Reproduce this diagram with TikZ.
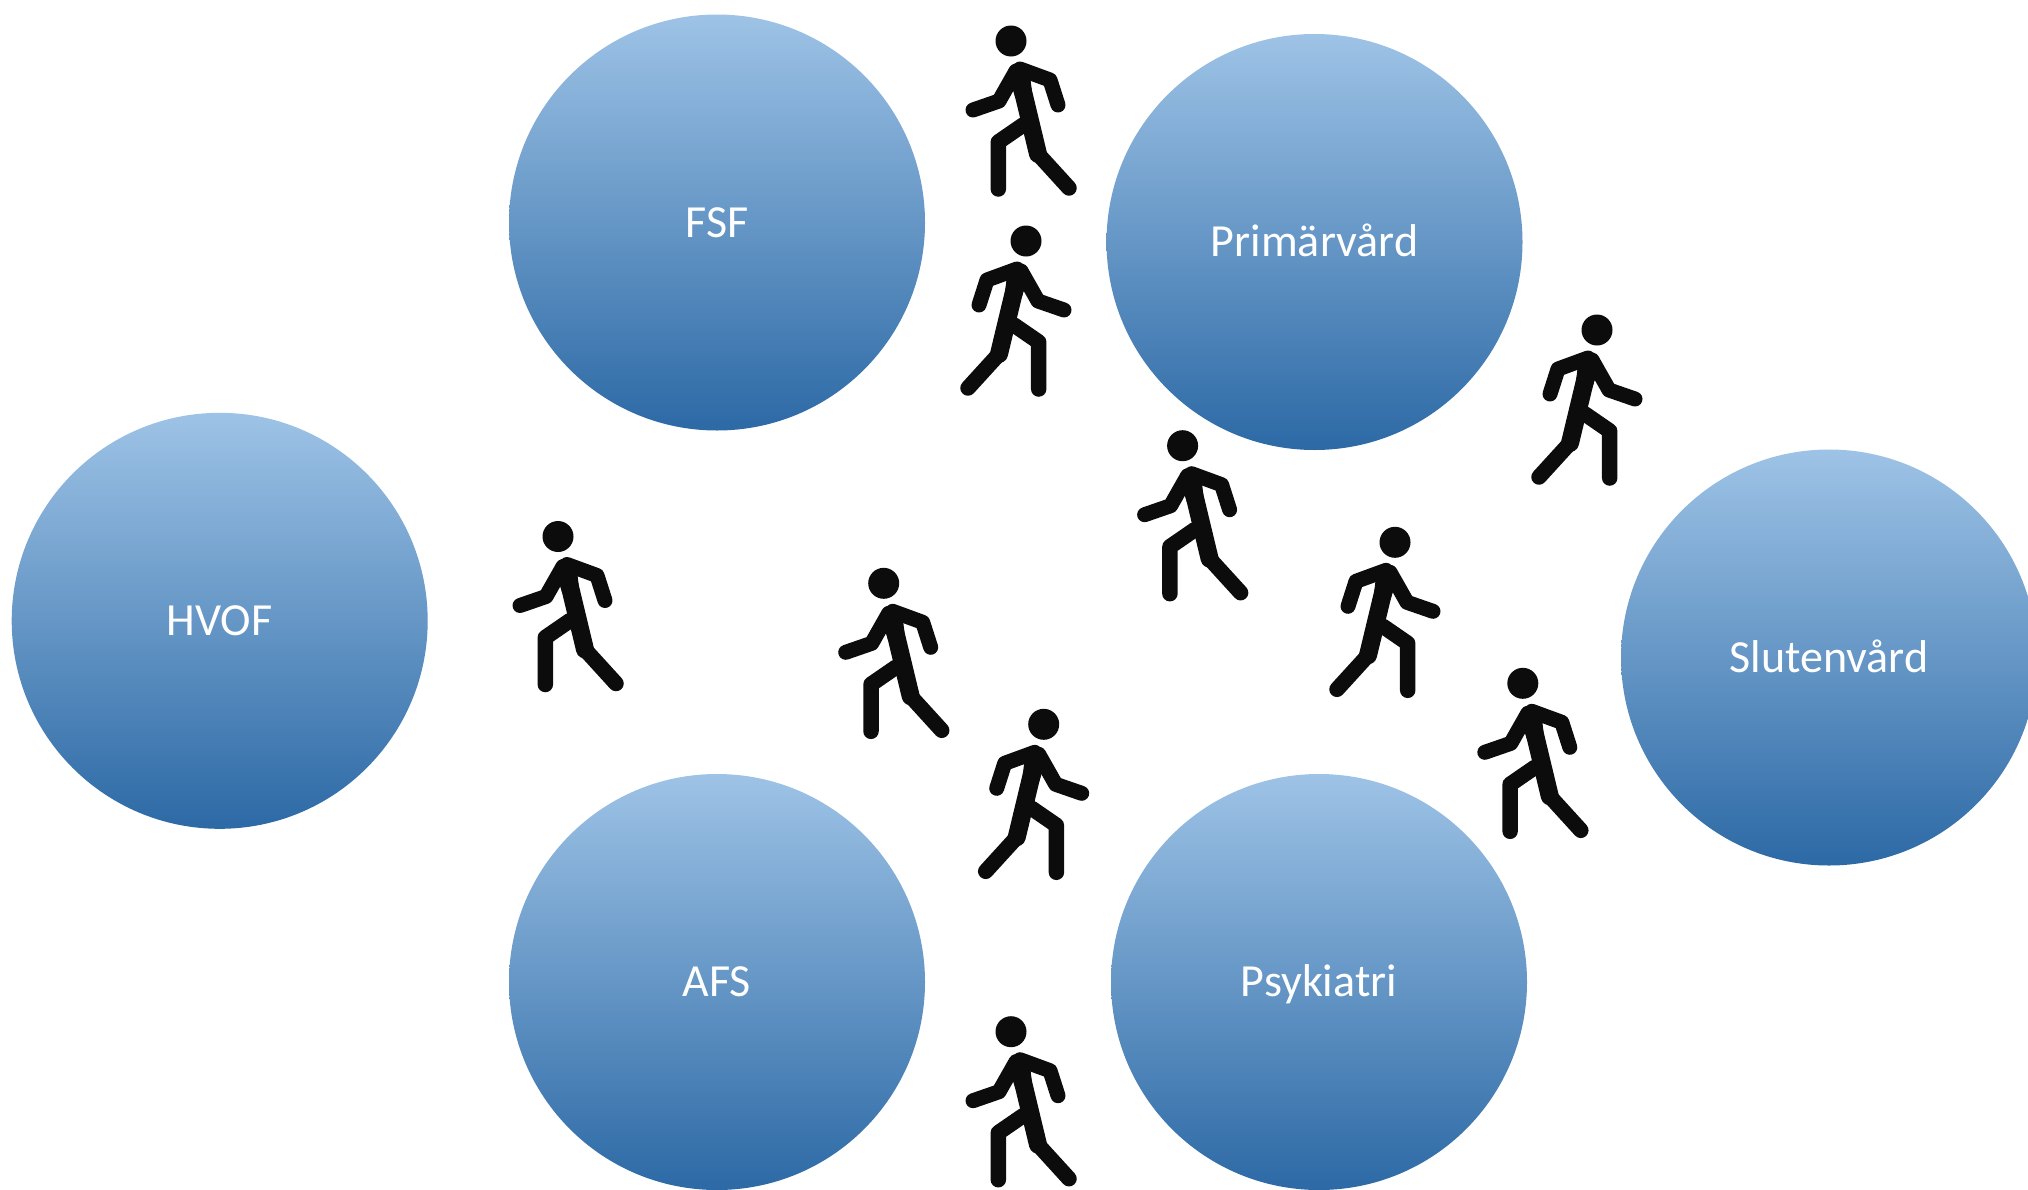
\documentclass[tikz,border=0pt]{standalone}
\usepackage{fontspec}
\setmainfont{Carlito}
\definecolor{ctop}{RGB}{158,195,230}
\definecolor{cmid}{RGB}{96,158,216}
\definecolor{cbot}{RGB}{44,105,165}
\definecolor{figblack}{RGB}{12,12,12}
\tikzset{
  ballshade/.style={top color=ctop, middle color=cmid, bottom color=cbot, draw=none},
  circ/.style={circle, draw=none, minimum size=416pt, inner sep=0pt,
    text height=29pt, text depth=0pt,
    text=white, font=\fontsize{46}{55}\selectfont},
  limb/.style={draw=figblack, line cap=round, line join=round, line width=15.5pt},
  walker/.pic={
    \fill[figblack] (0,0) circle (15.5);
    \draw[limb, line width=15pt] (5,30) -- (-12,60) -- (-38,69);
    \draw[limb, line width=15pt] (9,28) -- (39,39) -- (47,64);
    \fill[figblack, rounded corners=6pt] (-4,30) -- (2,23) -- (14,23) -- (19,34) -- (22,60) -- (6,62) -- cycle;
    \draw[limb, line width=18pt] (8,34) -- (27,113);
    \draw[limb] (27,113) -- (58,147);
    \draw[limb] (12,84) -- (-12.7,101) -- (-12.7,148);
  }
}
\begin{document}
\begin{tikzpicture}[x=1pt,y=-1pt]
\useasboundingbox (0,0) rectangle (2028,1189);
\clip (0,0) rectangle (2028,1189);
\foreach \cx/\cy in {717/222.5, 1314.5/242, 219.7/620.8, 1829/657.5, 717/982, 1319/982}{
  \begin{scope}
    \clip (\cx,\cy) circle (208);
    \shade[ballshade] (\cx-209,\cy-209) rectangle (\cx+209,\cy+209);
  \end{scope}
}
\node[circ] (fsf)  at (717,222.5)  {FSF};
\node[circ] (prim) at (1314.5,242) {Primärvård};
\node[circ] (hvof) at (219.7,620.8) {HVOF};
\node[circ] (slut) at (1829,657.5) {Slutenvård};
\node[circ] (afs)  at (717,982)    {AFS};
\node[circ] (psyk) at (1319,982)   {Psykiatri};
\pic (w1) at (1011,41) {walker};
\pic[xscale=-1] (w2) at (1026,241) {walker};
\pic[xscale=-1] (w3) at (1597,330) {walker};
\pic (w4) at (1182.6,445.7) {walker};
\pic (w5) at (558,536.5) {walker};
\pic[xscale=-1] (w6) at (1395,542.3) {walker};
\pic (w7) at (883.7,583.3) {walker};
\pic (w8) at (1522.8,683.3) {walker};
\pic[xscale=-1] (w9) at (1043.7,724.3) {walker};
\pic (w10) at (1011,1031.7) {walker};
\end{tikzpicture}
\end{document}
